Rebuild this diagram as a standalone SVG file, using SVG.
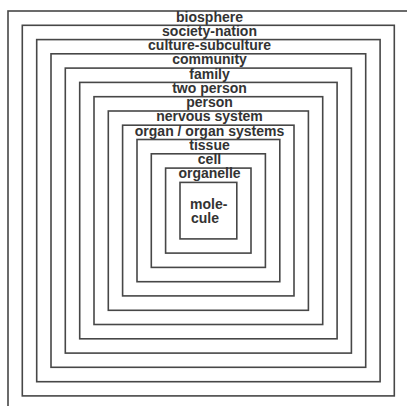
<svg xmlns="http://www.w3.org/2000/svg" width="407" height="406" viewBox="0 0 407 406">
<style>
.b{fill:none;stroke:#474747;stroke-width:1.6}
.t{font-family:"Liberation Sans",Arial,sans-serif;font-weight:bold;font-size:14px;fill:#333;text-anchor:middle}
.l{text-anchor:start}
</style>
<rect width="407" height="406" fill="#fff"/>
<g id="biosphere"><rect class="b" x="8" y="11" width="400.7" height="399.2"/><text class="t" x="209.5" y="21.5">biosphere</text></g>
<g id="society-nation"><rect class="b" x="22.3" y="25.3" width="372" height="370.6"/><text class="t" x="209.5" y="35.7">society-nation</text></g>
<g id="culture-subculture"><rect class="b" x="36.7" y="39.6" width="343.4" height="342.1"/><text class="t" x="209.5" y="50">culture-subculture</text></g>
<g id="community"><rect class="b" x="51" y="53.8" width="314.7" height="313.5"/><text class="t" x="209.5" y="64.3">community</text></g>
<g id="family"><rect class="b" x="65.3" y="68.1" width="286.1" height="285"/><text class="t" x="209.5" y="78.5">family</text></g>
<g id="two-person"><rect class="b" x="79.7" y="82.4" width="257.4" height="256.4"/><text class="t" x="209.5" y="92.6">two person</text></g>
<g id="person"><rect class="b" x="94" y="96.7" width="228.7" height="227.8"/><text class="t" x="209.5" y="106.8">person</text></g>
<g id="nervous-system"><rect class="b" x="108.3" y="111" width="200.1" height="199.3"/><text class="t" x="209.5" y="121.4">nervous system</text></g>
<g id="organ"><rect class="b" x="122.6" y="125.2" width="171.4" height="170.7"/><text class="t" x="209.5" y="135.8">organ / organ systems</text></g>
<g id="tissue"><rect class="b" x="137" y="139.5" width="142.8" height="142.2"/><text class="t" x="209.5" y="150">tissue</text></g>
<g id="cell"><rect class="b" x="151.3" y="153.8" width="114.1" height="113.6"/><text class="t" x="209.5" y="164.2">cell</text></g>
<g id="organelle"><rect class="b" x="165.6" y="168.1" width="85.4" height="85"/><text class="t" x="209.5" y="178.4">organelle</text></g>
<g id="molecule"><rect class="b" x="180" y="182.4" width="56.8" height="56.5"/><text class="t l" x="190" y="209">mole-</text><text class="t l" x="191" y="223.3">cule</text></g>
<g id="connectors"/>
</svg>
